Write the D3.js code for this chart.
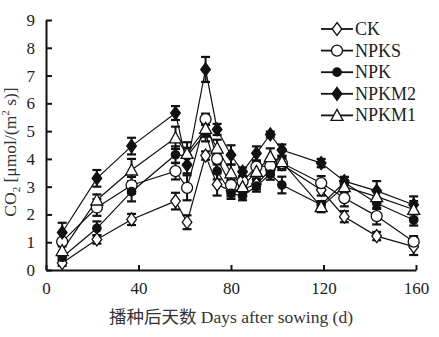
<!DOCTYPE html>
<html><head><meta charset="utf-8">
<script src="https://cdn.jsdelivr.net/npm/d3@7"></script>
<style>body{margin:0;background:#fff}svg{display:block}</style>
</head><body><svg id="c" width="439" height="337"></svg>
<script>
const days = [7,22,37,56,61,69,74,80,85,91,97,102,119,129,143,159];
const ck    = [0.25,1.10,1.82,2.48,1.72,4.12,3.08,2.85,2.90,3.10,3.60,3.80,2.88,1.92,1.22,0.84];
const npks  = [1.02,2.25,3.05,3.56,2.96,5.43,4.00,3.06,3.18,3.72,3.75,3.85,3.13,2.59,1.94,1.02];
const npk   = [0.46,1.50,2.82,4.15,4.10,4.93,3.56,2.76,2.66,3.02,3.45,3.06,2.35,3.15,2.40,1.80];
const npkm2 = [1.35,3.30,4.46,5.65,3.78,7.22,5.06,4.14,3.54,4.20,4.88,4.32,3.85,3.20,2.85,2.35];
const npkm1 = [0.70,2.52,3.60,4.76,4.20,5.10,4.39,3.50,3.00,3.55,4.08,3.90,2.28,3.00,2.64,2.18];
const ckErr    = [0.10,0.15,0.20,0.30,0.25,0.15,0.40,0.20,0.20,0.20,0.20,0.20,0.20,0.20,0.15,0.30];
const npksErr  = [0.10,0.30,0.30,0.30,0.45,0.20,0.20,0.20,0.20,0.20,0.20,0.20,0.25,0.30,0.30,0.20];
const npkErr   = [0.10,0.25,0.35,0.30,0.30,0.30,0.30,0.20,0.15,0.20,0.20,0.30,0.10,0.20,0.20,0.20];
const npkm2Err = [0.35,0.30,0.30,0.25,0.30,0.45,0.20,0.35,0.15,0.25,0.10,0.20,0.15,0.15,0.35,0.30];
const npkm1Err = [0.15,0.20,0.40,0.40,0.40,0.30,0.30,0.30,0.20,0.30,0.30,0.20,0.20,0.20,0.20,0.30];
const seriesNames = ["CK","NPKS","NPK","NPKM2","NPKM1"];
const xTicks = [0,40,80,120,160];
const yTicks = [0,1,2,3,4,5,6,7,8,9];

const series = [
  {name:"CK", v:ck, e:ckErr, m:"diamond", fill:"#fff"},
  {name:"NPKS", v:npks, e:npksErr, m:"circle", fill:"#fff"},
  {name:"NPK", v:npk, e:npkErr, m:"dot", fill:"#111"},
  {name:"NPKM2", v:npkm2, e:npkm2Err, m:"diamond", fill:"#111"},
  {name:"NPKM1", v:npkm1, e:npkm1Err, m:"triangle", fill:"#fff"}
];

const svg = d3.select("#c");
const x = d3.scaleLinear([0,160],[46,416]);
const y = d3.scaleLinear([0,9],[270,20]);
const font = "'Liberation Serif','Times New Roman','Noto Sans CJK SC',serif";

function markerPath(m){
  if(m==="diamond") return "M0,-6.5L4.8,0L0,6.5L-4.8,0Z";
  if(m==="circle") return d3.symbol(d3.symbolCircle, 95)();
  if(m==="dot") return d3.symbol(d3.symbolCircle, 55)();
  if(m==="triangle") return "M0,-6L6,5L-6,5Z";
}

// axes
const gy = svg.append("g").attr("transform","translate(46,0)")
  .call(d3.axisLeft(y).tickValues(yTicks).tickSizeInner(-6).tickSizeOuter(0).tickPadding(11).tickFormat(d3.format("d")));
const gx = svg.append("g").attr("transform","translate(0,270)")
  .call(d3.axisBottom(x).tickValues(xTicks).tickSizeInner(-5).tickSizeOuter(0).tickPadding(12).tickFormat(d3.format("d")));
[gx,gy].forEach(g=>{
  g.select(".domain").attr("stroke","#111").attr("stroke-width",2);
  g.selectAll(".tick line").attr("stroke","#111").attr("stroke-width",2);
  g.selectAll("text").attr("font-family",font).attr("font-size",17).attr("fill","#222");
});

const plot = svg.append("g");
const line = d3.line().x((d,i)=>x(days[i])).y(d=>y(d));
series.forEach(s=>{
  plot.append("path").attr("d",line(s.v)).attr("fill","none").attr("stroke","#111").attr("stroke-width",1.2);
});
series.forEach(s=>{
  const g = plot.append("g");
  s.v.forEach((v,i)=>{
    const cx = x(days[i]), y1 = y(v+s.e[i]), y2 = y(v-s.e[i]);
    g.append("line").attr("x1",cx).attr("x2",cx).attr("y1",y1).attr("y2",y2).attr("stroke","#111").attr("stroke-width",2);
    [y1,y2].forEach(yy=>g.append("line").attr("x1",cx-4.5).attr("x2",cx+4.5).attr("y1",yy).attr("y2",yy).attr("stroke","#111").attr("stroke-width",2.2));
  });
});
series.forEach(s=>{
  plot.append("g").selectAll("path").data(s.v).join("path")
    .attr("d",markerPath(s.m))
    .attr("transform",(d,i)=>`translate(${x(days[i])},${y(d)})`)
    .attr("fill",s.fill).attr("stroke","#111").attr("stroke-width",1.3);
});

// legend
const leg = svg.append("g");
series.forEach((s,i)=>{
  const cy = 29 + i*21.6;
  leg.append("line").attr("x1",321).attr("x2",353).attr("y1",cy).attr("y2",cy).attr("stroke","#111").attr("stroke-width",1.8);
  leg.append("path").attr("d",markerPath(s.m)).attr("transform",`translate(337,${cy})`)
    .attr("fill",s.fill).attr("stroke","#111").attr("stroke-width",1.3);
  leg.append("text").attr("x",355).attr("y",cy+6).text(seriesNames[i])
    .attr("font-family",font).attr("font-size",18).attr("fill","#222");
});

// axis titles
svg.append("text").attr("x",231).attr("y",323).attr("text-anchor","middle")
  .attr("font-family",font).attr("font-size",17.5).attr("fill","#333")
  .text("播种后天数 Days after sowing (d)");
const yt = svg.append("text").attr("transform","translate(16,152) rotate(-90)").attr("text-anchor","middle")
  .attr("font-family",font).attr("font-size",17.5).attr("fill","#333");
yt.append("tspan").text("CO");
yt.append("tspan").text("2").attr("font-size",11).attr("dy",4);
yt.append("tspan").text(" [μmol/(m").attr("dy",-4);
yt.append("tspan").text("2").attr("font-size",11).attr("dy",-7);
yt.append("tspan").text(" s)]").attr("dy",7);
</script></body></html>
